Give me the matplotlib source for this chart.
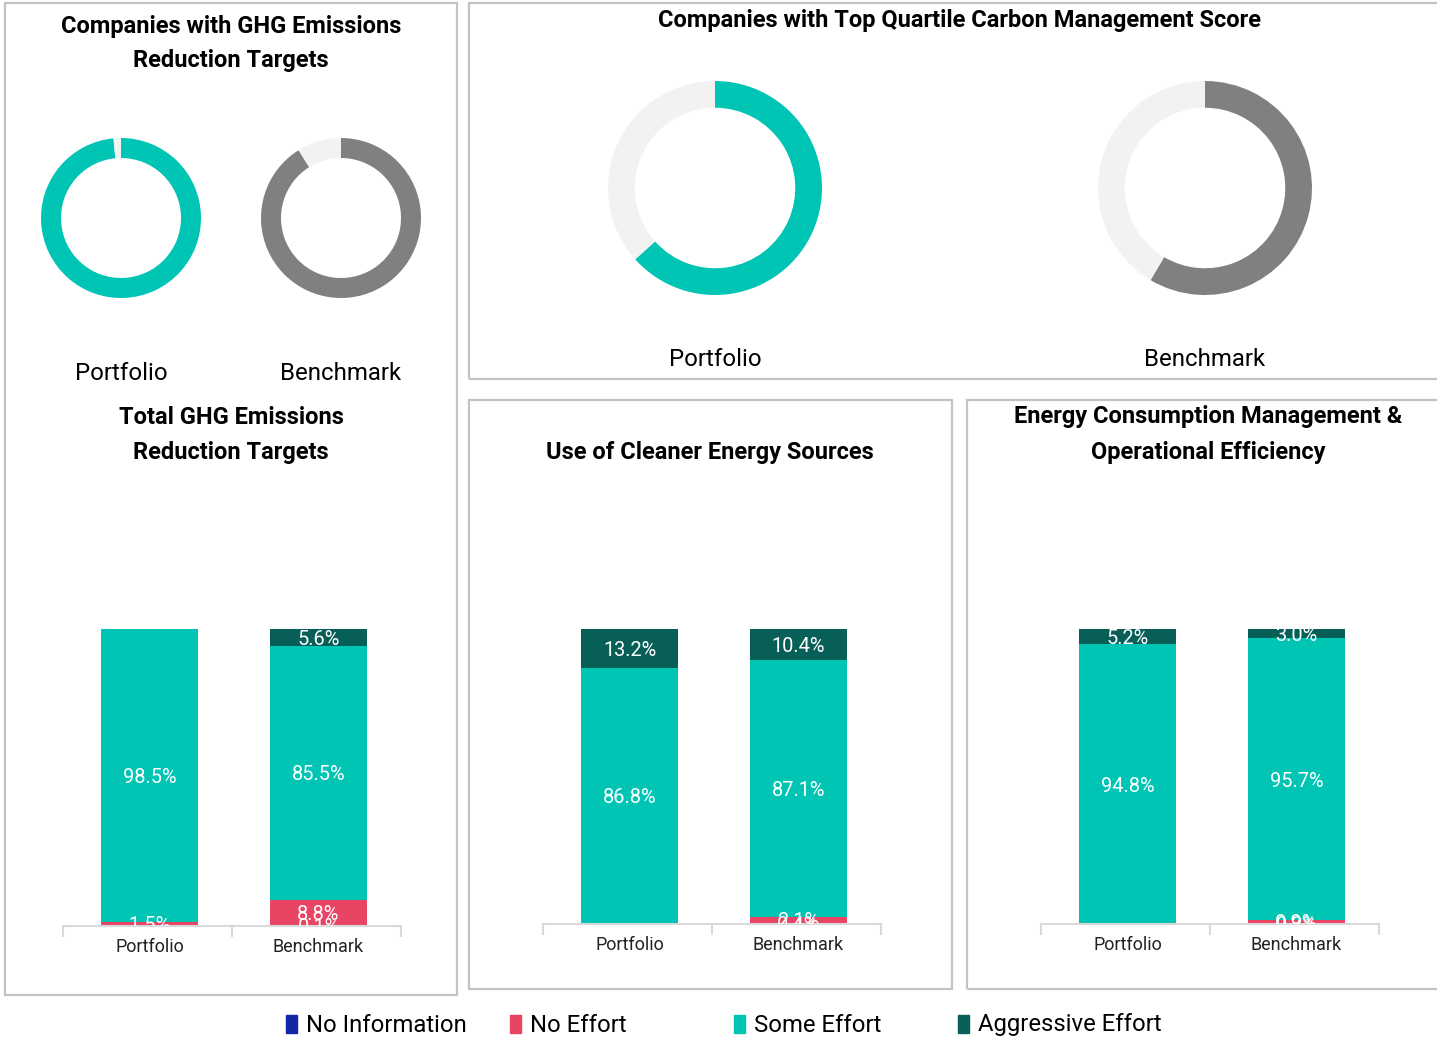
import numpy as np
import matplotlib
matplotlib.use("Agg")
import matplotlib.pyplot as plt
from matplotlib.patches import Rectangle

plt.rcParams['font.family'] = ['Roboto', 'DejaVu Sans']

W, H = 1437, 1037

# colours
c_noinfo = '#1226a6'
c_noeff = '#e84565'
c_some = '#00c4b4'
c_aggr = '#075f57'
c_grey = '#808080'
c_light = '#f2f2f2'
c_border = '#c3c3c3'

# donut data (share of companies, %)
ghg_target_portfolio = 98.5
ghg_target_benchmark = 91.1
top_quartile_portfolio = 63.4
top_quartile_benchmark = 58.5

# stacked bars (%): Portfolio, Benchmark
categories = ['Portfolio', 'Benchmark']
series_names = ['No Information', 'No Effort', 'Some Effort', 'Aggressive Effort']
series_colors = [c_noinfo, c_noeff, c_some, c_aggr]

ghg_no_info = [0.0, 0.1]
ghg_no_effort = [1.5, 8.8]
ghg_some = [98.5, 85.5]
ghg_aggr = [0.0, 5.6]

clean_no_info = [0.0, 0.4]
clean_no_effort = [0.0, 2.1]
clean_some = [86.8, 87.1]
clean_aggr = [13.2, 10.4]

energy_no_info = [0.0, 0.3]
energy_no_effort = [0.0, 0.9]
energy_some = [94.8, 95.7]
energy_aggr = [5.2, 3.0]


def px_axes(fig, x0, y0, x1, y1):
    # axes from pixel box (top-left origin)
    return fig.add_axes([x0 / W, 1 - y1 / H, (x1 - x0) / W, (y1 - y0) / H])


def fx(x):
    return x / W


def fy(y):
    return 1 - y / H


def donut(fig, cx, cy, r, value, color):
    ax = px_axes(fig, cx - r, cy - r, cx + r, cy + r)
    ax.pie([value, 100 - value], startangle=90, counterclock=False,
           colors=[color, c_light], wedgeprops=dict(width=0.25))
    ax.set_xlim(-1, 1)
    ax.set_ylim(-1, 1)
    ax.set_aspect('equal')
    ax.axis('off')


def stacked(fig, x0, x1, y_bottom, y_top, data):
    ax = px_axes(fig, x0, y_top, x1, y_bottom)
    x = np.arange(len(categories))
    bottom = np.zeros(len(categories))
    for vals, col in zip(data, series_colors):
        vals = np.array(vals)
        ax.bar(x + 0.012, vals, width=0.574, bottom=bottom, color=col, zorder=2)
        for xi, v, b in zip(x, vals, bottom):
            if v > 0:
                ax.text(xi + 0.012, b + v / 2, f'{v:.1f}%', ha='center', va='center_baseline',
                        color='white', fontsize=14.4, zorder=3, clip_on=True)
        bottom += vals
    ax.set_xlim(-0.5, 1.5)
    ax.set_ylim(0, 100)
    for s in ['top', 'right', 'left']:
        ax.spines[s].set_visible(False)
    ax.spines['bottom'].set_color('#d9d9d9')
    ax.spines['bottom'].set_linewidth(1.5)
    ax.set_yticks([])
    ax.set_xticks([-0.5, 0.5, 1.5], minor=False)
    ax.set_xticklabels([])
    ax.set_xticks(x + 0.012, minor=True)
    ax.set_xticklabels(categories, minor=True, fontsize=13, color='#222222')
    ax.tick_params(axis='x', which='major', length=8, width=1.5, color='#d9d9d9')
    ax.tick_params(axis='x', which='minor', length=0, pad=9)
    return ax


fig = plt.figure(figsize=(W / 100, H / 100), dpi=100)

# panel frames
for (x0, y0, x1, y1) in [(5, 3, 457, 995), (469, 3, 1442, 379),
                         (469, 400, 952, 989), (967, 400, 1442, 989)]:
    fig.patches.append(Rectangle((fx(x0), fy(y1)), fx(x1 - x0), (y1 - y0) / H,
                                 transform=fig.transFigure, fill=False,
                                 edgecolor=c_border, linewidth=1.6))

title_kw = dict(ha='center', va='center', fontsize=17, fontweight='bold', color='black')
label_kw = dict(ha='center', va='center', fontsize=17.3, color='black')

# GHG target donuts
fig.text(fx(231), fy(26), 'Companies with GHG Emissions', **title_kw)
fig.text(fx(231), fy(60), 'Reduction Targets', **title_kw)
donut(fig, 121, 218, 80, ghg_target_portfolio, c_some)
donut(fig, 341, 218, 80, ghg_target_benchmark, c_grey)
fig.text(fx(121), fy(373), 'Portfolio', **label_kw)
fig.text(fx(341), fy(373), 'Benchmark', **label_kw)

# top quartile donuts
fig.text(fx(960), fy(20), 'Companies with Top Quartile Carbon Management Score', **title_kw)
donut(fig, 715, 188, 107, top_quartile_portfolio, c_some)
donut(fig, 1205, 188, 107, top_quartile_benchmark, c_grey)
fig.text(fx(715), fy(359), 'Portfolio', **label_kw)
fig.text(fx(1205), fy(359), 'Benchmark', **label_kw)

# stacked bars
fig.text(fx(231), fy(418), 'Total GHG Emissions', **title_kw)
fig.text(fx(231), fy(453), 'Reduction Targets', **title_kw)
stacked(fig, 63, 401, 926, 629, [ghg_no_info, ghg_no_effort, ghg_some, ghg_aggr])

fig.text(fx(710), fy(452), 'Use of Cleaner Energy Sources', **title_kw)
stacked(fig, 543, 881, 924, 629, [clean_no_info, clean_no_effort, clean_some, clean_aggr])

fig.text(fx(1208), fy(417), 'Energy Consumption Management &', **title_kw)
fig.text(fx(1208), fy(452), 'Operational Efficiency', **title_kw)
stacked(fig, 1041, 1379, 924, 629, [energy_no_info, energy_no_effort, energy_some, energy_aggr])

# legend
for i, (name, col) in enumerate(zip(series_names, series_colors)):
    lx = 286 + 224 * i
    fig.patches.append(Rectangle((fx(lx), fy(1033)), 11 / W, 18 / H,
                                 transform=fig.transFigure, color=col))
    fig.text(fx(lx + 20), fy(1025), name, ha='left', va='center', fontsize=17.2)

plt.savefig('out.png', dpi=100)
